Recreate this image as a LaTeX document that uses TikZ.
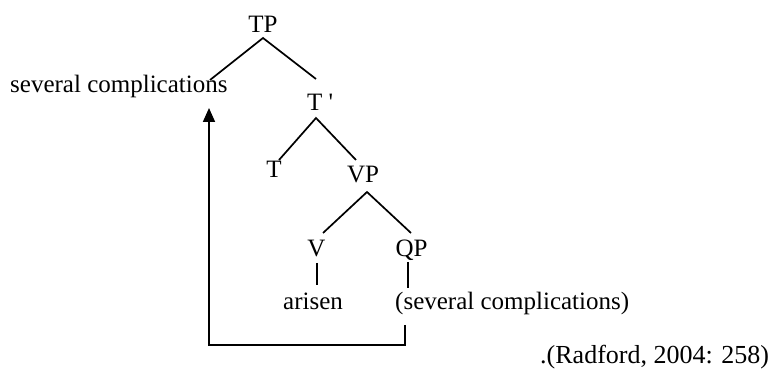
\documentclass[tikz,border=0pt]{standalone}
\usepackage{fontspec}
\setmainfont{Liberation Serif}[Ligatures=TeXOff]
\usetikzlibrary{arrows.meta}
\begin{document}
\begin{tikzpicture}[x=1pt,y=1pt,
  lab/.style={inner sep=0pt, font=\fontsize{25}{30}\selectfont},
  edge/.style={line width=1.7pt, line join=miter},
  move/.style={edge, -{Triangle[width=12pt,length=14pt]}}]
\useasboundingbox (0,0) rectangle (771,369);
% labels
\node[lab,anchor=base] (TP) at (263,336) {TP};
\node[lab,anchor=base west] (spec) at (10,276) {several complications};
\node[lab,anchor=base west] (Tbar) at (307,258) {T '};
\node[lab,anchor=base] (T) at (274,191) {T};
\node[lab,anchor=base] (VP) at (363,186) {VP};
\node[lab,anchor=base] (V) at (316.5,112) {V};
\node[lab,anchor=base] (QP) at (411.5,112) {QP};
\node[lab,anchor=base west] (arisen) at (283,59) {arisen};
\node[lab,anchor=base west] (trace) at (395,59) {(several complications)};
\node[lab,anchor=base west,font=\fontsize{26}{30}\selectfont] (src) at (540,5) {.(Radford, 2004: 258)};
% joints
\coordinate (TP-b) at (263,331);
\coordinate (spec-t) at (210,289);
\coordinate (Tbar-t) at (316,290);
\coordinate (Tbar-b) at (316,251);
\coordinate (T-t) at (279,209);
\coordinate (VP-t) at (356,209);
\coordinate (VP-b) at (367,177);
\coordinate (V-t) at (323,136);
\coordinate (QP-t) at (411,136);
\coordinate (V-b) at (317,106);
\coordinate (arisen-t) at (317,84);
\coordinate (QP-b) at (408,107);
\coordinate (trace-t) at (408,81);
\coordinate (trace-b) at (405,44);
\coordinate (mv-r) at (405,24);
\coordinate (mv-l) at (209,24);
\coordinate (spec-b) at (209,261);
% branches
\draw[edge] (spec-t) -- (TP-b) -- (Tbar-t);
\draw[edge] (T-t) -- (Tbar-b) -- (VP-t);
\draw[edge] (V-t) -- (VP-b) -- (QP-t);
\draw[edge] (V-b) -- (arisen-t);
\draw[edge] (QP-b) -- (trace-t);
% movement arrow
\draw[move] (trace-b) -- (mv-r) -- (mv-l) -- (spec-b);
\end{tikzpicture}
\end{document}
